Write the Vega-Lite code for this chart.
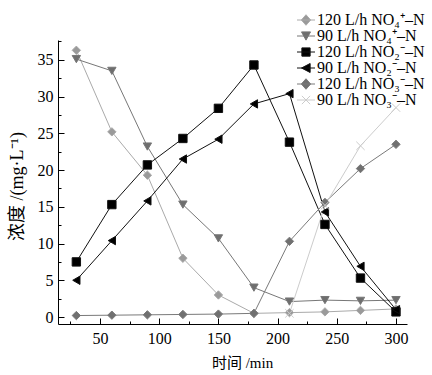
{
  "$schema": "https://vega.github.io/schema/vega-lite/v6.json",
  "width": 349,
  "height": 284,
  "autosize": {"type": "none"},
  "padding": {"left": 58, "top": 40, "right": 25, "bottom": 51},
  "background": "white",
  "config": {
    "view": {"stroke": null},
    "axis": {"grid": false, "domainColor": "#000", "tickColor": "#000", "labelColor": "#000", "titleColor": "#000", "labelFont": "Liberation Serif", "labelFontSize": 16, "titleFont": "Liberation Serif, Noto Sans CJK SC", "titleFontSize": 15, "titleFontWeight": "normal"},
    "legend": {"title": null, "orient": "none", "legendX": 240, "legendY": -28, "padding": 0, "labelFont": "Liberation Serif", "labelFontSize": 16, "labelColor": "#000", "symbolSize": 225, "labelOffset": 3, "rowPadding": -1, "labelLimit": 200}
  },
  "data": {"values": [
    {"s": "120 L/h NO₄⁺–N", "t": 30, "v": 36.3}, {"s": "120 L/h NO₄⁺–N", "t": 60, "v": 25.2}, {"s": "120 L/h NO₄⁺–N", "t": 90, "v": 19.3}, {"s": "120 L/h NO₄⁺–N", "t": 120, "v": 8.0}, {"s": "120 L/h NO₄⁺–N", "t": 150, "v": 3.0}, {"s": "120 L/h NO₄⁺–N", "t": 180, "v": 0.5}, {"s": "120 L/h NO₄⁺–N", "t": 210, "v": 0.6}, {"s": "120 L/h NO₄⁺–N", "t": 240, "v": 0.7}, {"s": "120 L/h NO₄⁺–N", "t": 270, "v": 0.9}, {"s": "120 L/h NO₄⁺–N", "t": 300, "v": 1.1},
    {"s": "90 L/h NO₄⁺–N", "t": 30, "v": 35.1}, {"s": "90 L/h NO₄⁺–N", "t": 60, "v": 33.5}, {"s": "90 L/h NO₄⁺–N", "t": 90, "v": 23.2}, {"s": "90 L/h NO₄⁺–N", "t": 120, "v": 15.3}, {"s": "90 L/h NO₄⁺–N", "t": 150, "v": 10.7}, {"s": "90 L/h NO₄⁺–N", "t": 180, "v": 4.0}, {"s": "90 L/h NO₄⁺–N", "t": 210, "v": 2.1}, {"s": "90 L/h NO₄⁺–N", "t": 240, "v": 2.3}, {"s": "90 L/h NO₄⁺–N", "t": 270, "v": 2.2}, {"s": "90 L/h NO₄⁺–N", "t": 300, "v": 2.3},
    {"s": "120 L/h NO₂⁻–N", "t": 30, "v": 7.5}, {"s": "120 L/h NO₂⁻–N", "t": 60, "v": 15.3}, {"s": "120 L/h NO₂⁻–N", "t": 90, "v": 20.7}, {"s": "120 L/h NO₂⁻–N", "t": 120, "v": 24.3}, {"s": "120 L/h NO₂⁻–N", "t": 150, "v": 28.4}, {"s": "120 L/h NO₂⁻–N", "t": 180, "v": 34.3}, {"s": "120 L/h NO₂⁻–N", "t": 210, "v": 23.8}, {"s": "120 L/h NO₂⁻–N", "t": 240, "v": 12.6}, {"s": "120 L/h NO₂⁻–N", "t": 270, "v": 5.3}, {"s": "120 L/h NO₂⁻–N", "t": 300, "v": 0.7},
    {"s": "90 L/h NO₂⁻–N", "t": 30, "v": 5.0}, {"s": "90 L/h NO₂⁻–N", "t": 60, "v": 10.4}, {"s": "90 L/h NO₂⁻–N", "t": 90, "v": 15.8}, {"s": "90 L/h NO₂⁻–N", "t": 120, "v": 21.5}, {"s": "90 L/h NO₂⁻–N", "t": 150, "v": 24.2}, {"s": "90 L/h NO₂⁻–N", "t": 180, "v": 29.0}, {"s": "90 L/h NO₂⁻–N", "t": 210, "v": 30.4}, {"s": "90 L/h NO₂⁻–N", "t": 240, "v": 14.3}, {"s": "90 L/h NO₂⁻–N", "t": 270, "v": 6.9}, {"s": "90 L/h NO₂⁻–N", "t": 300, "v": 1.0},
    {"s": "120 L/h NO₃⁻–N", "t": 30, "v": 0.2}, {"s": "120 L/h NO₃⁻–N", "t": 60, "v": 0.25}, {"s": "120 L/h NO₃⁻–N", "t": 90, "v": 0.3}, {"s": "120 L/h NO₃⁻–N", "t": 120, "v": 0.35}, {"s": "120 L/h NO₃⁻–N", "t": 150, "v": 0.4}, {"s": "120 L/h NO₃⁻–N", "t": 180, "v": 0.5}, {"s": "120 L/h NO₃⁻–N", "t": 210, "v": 10.3}, {"s": "120 L/h NO₃⁻–N", "t": 240, "v": 15.6}, {"s": "120 L/h NO₃⁻–N", "t": 270, "v": 20.2}, {"s": "120 L/h NO₃⁻–N", "t": 300, "v": 23.5},
    {"s": "90 L/h NO₃⁻–N", "t": 210, "v": 0.5}, {"s": "90 L/h NO₃⁻–N", "t": 240, "v": 15.2}, {"s": "90 L/h NO₃⁻–N", "t": 270, "v": 23.3}, {"s": "90 L/h NO₃⁻–N", "t": 300, "v": 28.5}
  ]},
  "resolve": {"axis": {"x": "independent", "y": "independent"}},
  "layer": [
    {
      "mark": {"type": "line", "strokeWidth": 1},
      "encoding": {
        "x": {"field": "t", "type": "quantitative", "scale": {"domain": [14.5, 309.3], "nice": false, "zero": false},
          "axis": {"orient": "bottom", "values": [25, 75, 125, 175, 225, 275], "labels": false, "tickSize": -3, "domain": false, "title": null}},
        "y": {"field": "v", "type": "quantitative", "scale": {"domain": [-0.95, 37.7], "nice": false, "zero": false},
          "axis": {"orient": "left", "values": [2.5, 7.5, 12.5, 17.5, 22.5, 27.5, 32.5, 37.5], "labels": false, "tickSize": -3, "domain": false, "title": null}},
        "detail": {"field": "s"},
        "stroke": {"field": "s", "type": "nominal",
          "scale": {"domain": ["120 L/h NO₄⁺–N", "90 L/h NO₄⁺–N", "120 L/h NO₂⁻–N", "90 L/h NO₂⁻–N", "120 L/h NO₃⁻–N", "90 L/h NO₃⁻–N"],
            "range": ["#aaaaaa", "#777777", "#111111", "#111111", "#7a7a7a", "#cccccc"]},
          "legend": {"encode": {"symbols": {"update": {
              "shape": {"signal": "['M-1.2,0H1.2M0,-0.7L0.62,0L0,0.7L-0.62,0Z','M-1.2,0H1.2M-0.6,-0.55L0.6,-0.55L0,0.55Z','M-1.2,0H1.2M-0.55,-0.55H0.55V0.55H-0.55Z','M-1.2,0H1.2M-0.6,0L0.55,-0.6L0.55,0.6Z','M-1.2,0H1.2M0,-0.7L0.62,0L0,0.7L-0.62,0Z','M-1.2,0H1.2M-0.55,-0.55L0.55,0.55M-0.55,0.55L0.55,-0.55'][indexof(['120 L/h NO₄⁺–N','90 L/h NO₄⁺–N','120 L/h NO₂⁻–N','90 L/h NO₂⁻–N','120 L/h NO₃⁻–N','90 L/h NO₃⁻–N'], datum.value)]"},
              "fill": {"signal": "['#9a9a9a','#6e6e6e','#000000','#000000','#707070','#c8c8c8'][indexof(['120 L/h NO₄⁺–N','90 L/h NO₄⁺–N','120 L/h NO₂⁻–N','90 L/h NO₂⁻–N','120 L/h NO₃⁻–N','90 L/h NO₃⁻–N'], datum.value)]"},
              "stroke": {"signal": "['#aaaaaa','#777777','#111111','#111111','#7a7a7a','#cccccc'][indexof(['120 L/h NO₄⁺–N','90 L/h NO₄⁺–N','120 L/h NO₂⁻–N','90 L/h NO₂⁻–N','120 L/h NO₃⁻–N','90 L/h NO₃⁻–N'], datum.value)]"},
              "strokeWidth": {"value": 1},
              "size": {"value": 225},
              "opacity": {"value": 1}
            }}}}}
      }
    },
    {
      "mark": {"type": "point", "filled": true, "opacity": 1, "strokeWidth": 1},
      "encoding": {
        "x": {"field": "t", "type": "quantitative",
          "axis": {"orient": "bottom", "values": [50, 100, 150, 200, 250, 300], "tickSize": -6, "labelPadding": 12, "title": "时间 /min", "titleX": 184, "titleY": 38, "titleBaseline": "middle"}},
        "y": {"field": "v", "type": "quantitative",
          "axis": {"orient": "left", "values": [0, 5, 10, 15, 20, 25, 30, 35], "tickSize": -6, "labelPadding": 11, "title": "浓度 /(mg·L⁻¹)", "titleFontSize": 18, "titleX": -41, "titleY": 146, "titleBaseline": "middle", "titleAngle": -90}},
        "stroke": {"field": "s", "type": "nominal",
          "legend": {"encode": {"symbols": {"update": {
              "shape": {"signal": "['M-1.2,0H1.2M0,-0.7L0.62,0L0,0.7L-0.62,0Z','M-1.2,0H1.2M-0.6,-0.55L0.6,-0.55L0,0.55Z','M-1.2,0H1.2M-0.55,-0.55H0.55V0.55H-0.55Z','M-1.2,0H1.2M-0.6,0L0.55,-0.6L0.55,0.6Z','M-1.2,0H1.2M0,-0.7L0.62,0L0,0.7L-0.62,0Z','M-1.2,0H1.2M-0.55,-0.55L0.55,0.55M-0.55,0.55L0.55,-0.55'][indexof(['120 L/h NO₄⁺–N','90 L/h NO₄⁺–N','120 L/h NO₂⁻–N','90 L/h NO₂⁻–N','120 L/h NO₃⁻–N','90 L/h NO₃⁻–N'], datum.value)]"},
              "fill": {"signal": "['#9a9a9a','#6e6e6e','#000000','#000000','#707070','#c8c8c8'][indexof(['120 L/h NO₄⁺–N','90 L/h NO₄⁺–N','120 L/h NO₂⁻–N','90 L/h NO₂⁻–N','120 L/h NO₃⁻–N','90 L/h NO₃⁻–N'], datum.value)]"},
              "stroke": {"signal": "['#aaaaaa','#777777','#111111','#111111','#7a7a7a','#cccccc'][indexof(['120 L/h NO₄⁺–N','90 L/h NO₄⁺–N','120 L/h NO₂⁻–N','90 L/h NO₂⁻–N','120 L/h NO₃⁻–N','90 L/h NO₃⁻–N'], datum.value)]"},
              "strokeWidth": {"value": 1},
              "size": {"value": 225},
              "opacity": {"value": 1}
            }}}}},
        "color": {"field": "s", "type": "nominal",
          "scale": {"domain": ["120 L/h NO₄⁺–N", "90 L/h NO₄⁺–N", "120 L/h NO₂⁻–N", "90 L/h NO₂⁻–N", "120 L/h NO₃⁻–N", "90 L/h NO₃⁻–N"],
            "range": ["#9a9a9a", "#6e6e6e", "#000000", "#000000", "#707070", "#c8c8c8"]},
          "legend": {"encode": {"symbols": {"update": {
              "shape": {"signal": "['M-1.2,0H1.2M0,-0.7L0.62,0L0,0.7L-0.62,0Z','M-1.2,0H1.2M-0.6,-0.55L0.6,-0.55L0,0.55Z','M-1.2,0H1.2M-0.55,-0.55H0.55V0.55H-0.55Z','M-1.2,0H1.2M-0.6,0L0.55,-0.6L0.55,0.6Z','M-1.2,0H1.2M0,-0.7L0.62,0L0,0.7L-0.62,0Z','M-1.2,0H1.2M-0.55,-0.55L0.55,0.55M-0.55,0.55L0.55,-0.55'][indexof(['120 L/h NO₄⁺–N','90 L/h NO₄⁺–N','120 L/h NO₂⁻–N','90 L/h NO₂⁻–N','120 L/h NO₃⁻–N','90 L/h NO₃⁻–N'], datum.value)]"},
              "fill": {"signal": "['#9a9a9a','#6e6e6e','#000000','#000000','#707070','#c8c8c8'][indexof(['120 L/h NO₄⁺–N','90 L/h NO₄⁺–N','120 L/h NO₂⁻–N','90 L/h NO₂⁻–N','120 L/h NO₃⁻–N','90 L/h NO₃⁻–N'], datum.value)]"},
              "stroke": {"signal": "['#aaaaaa','#777777','#111111','#111111','#7a7a7a','#cccccc'][indexof(['120 L/h NO₄⁺–N','90 L/h NO₄⁺–N','120 L/h NO₂⁻–N','90 L/h NO₂⁻–N','120 L/h NO₃⁻–N','90 L/h NO₃⁻–N'], datum.value)]"},
              "strokeWidth": {"value": 1},
              "size": {"value": 225},
              "opacity": {"value": 1}
            }}}}},
        "shape": {"field": "s", "type": "nominal", "legend": null,
          "scale": {"domain": ["90 L/h NO₃⁻–N", "120 L/h NO₄⁺–N", "90 L/h NO₄⁺–N", "120 L/h NO₂⁻–N", "90 L/h NO₂⁻–N", "120 L/h NO₃⁻–N"],
            "range": ["M-1,-1L1,1M-1,1L1,-1", "diamond", "triangle-down", "square", "triangle-left", "diamond"]}},
        "size": {"value": 70}
      }
    }
  ]
}
